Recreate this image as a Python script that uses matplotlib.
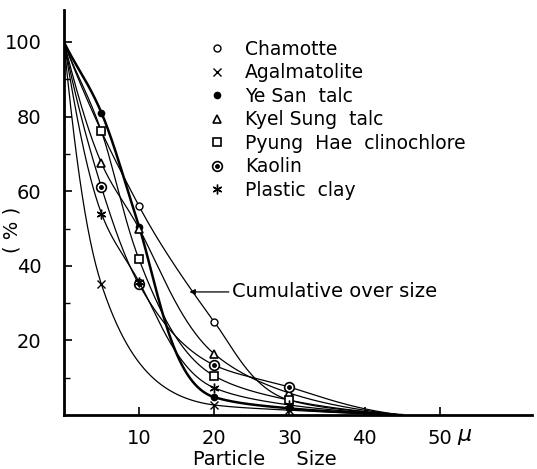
import numpy as np
import matplotlib
matplotlib.use('Agg')
import matplotlib.pyplot as plt
from matplotlib.lines import Line2D

# cumulative over size (%) at particle size (micron); every curve runs
# from 100 % at 0 down to 0 % at x_end
sizes = [5, 10, 20, 30]
chamotte = [76, 56, 25, 4]
agalmatolite = [35, None, 2.7, 1.3]
ye_san = [81, 50.5, 4.8, 1.8]
kyel_sung = [67.5, 50, 16.4, 5.9]
pyung_hae = [76, 41.7, 10.5, 4]
kaolin = [61, 35, 13.4, 7.5]
plastic_clay = [54, 35.7, 7.3, 2.7]
x_end = 45

names = ['Chamotte', 'Agalmatolite', 'Ye San  talc', 'Kyel Sung  talc',
         'Pyung  Hae  clinochlore', 'Kaolin', 'Plastic  clay']
series = [chamotte, agalmatolite, ye_san, kyel_sung, pyung_hae, kaolin, plastic_clay]
styles = [
    dict(marker='o', ms=5, mfc='white', mec='black', mew=1.0),
    dict(marker='x', ms=6, mec='black', mew=1.0),
    dict(marker='o', ms=4.5, mfc='black', mec='black'),
    dict(marker='^', ms=6, mfc='white', mec='black', mew=1.2),
    dict(marker='s', ms=5.5, mfc='white', mec='black', mew=1.2),
    dict(marker='o', ms=7, mfc='white', mec='black', mew=1.2),
    dict(marker=(6, 2, 0), ms=7, mec='black', mew=1.0),
]
widths = [0.9, 0.9, 1.8, 0.9, 0.9, 0.9, 0.9]


def pchip(x, y, xs):
    # monotone cubic Hermite (Fritsch-Carlson)
    x = np.asarray(x, float)
    y = np.asarray(y, float)
    h = np.diff(x)
    d = np.diff(y) / h
    m = np.zeros_like(y)
    m[0] = d[0]
    m[-1] = d[-1]
    for k in range(1, len(x) - 1):
        if d[k - 1] * d[k] <= 0:
            m[k] = 0
        else:
            w1 = 2 * h[k] + h[k - 1]
            w2 = h[k] + 2 * h[k - 1]
            m[k] = (w1 + w2) / (w1 / d[k - 1] + w2 / d[k])
    i = np.clip(np.searchsorted(x, xs) - 1, 0, len(x) - 2)
    t = (xs - x[i]) / h[i]
    h00 = 2 * t**3 - 3 * t**2 + 1
    h10 = t**3 - 2 * t**2 + t
    h01 = -2 * t**3 + 3 * t**2
    h11 = t**3 - t**2
    return h00 * y[i] + h10 * h[i] * m[i] + h01 * y[i + 1] + h11 * h[i] * m[i + 1]


def curve(vals, xs, c=3.0):
    # smooth in log(y + c) so the decay bends like a drawn curve
    px = [0] + [s for s, v in zip(sizes, vals) if v is not None] + [x_end]
    py = [100] + [v for v in vals if v is not None] + [0]
    return np.exp(pchip(px, np.log(np.array(py) + c), xs)) - c


plt.rcParams['font.family'] = ['DejaVu Sans']
fig = plt.figure(figsize=(5.37, 4.69), dpi=100)
ax = fig.add_axes([0.119, 0.115, 0.872, 0.864])

xs = np.linspace(0, x_end, 500)
handles = []
for vals, name, st, lw in zip(series, names, styles, widths):
    ax.plot(xs, curve(vals, xs), color='black', lw=lw)
    px = [s for s, v in zip(sizes, vals) if v is not None]
    py = [v for v in vals if v is not None]
    ax.plot(px, py, ls='none', color='black', **st)
    h = Line2D([], [], ls='none', color='black', **st)
    if name == 'Kaolin':
        ax.plot(px, py, ls='none', marker='o', ms=2.5, color='black')
        h = (h, Line2D([], [], ls='none', marker='o', ms=2.5, color='black'))
    handles.append(h)

ax.legend(handles, names, loc='upper left', bbox_to_anchor=(0.29, 0.945),
          frameon=False, fontsize=13.5, handlelength=1.0, handletextpad=1.0,
          labelspacing=0.24, borderaxespad=0)

ax.annotate('Cumulative over size', xy=(16.7, 33), xytext=(22.3, 33),
            fontsize=14, va='center',
            arrowprops=dict(arrowstyle='-|>', color='black', lw=0.9,
                            mutation_scale=8, shrinkA=0, shrinkB=0))

ax.set_xlim(0, 62.3)
ax.set_ylim(0, 108.6)
ax.set_xticks([10, 20, 30, 40, 50])
ax.set_xticklabels(['10', '20', '30', '40', '50'])
ax.set_yticks([20, 40, 60, 80, 100])
ax.set_yticks([10, 30, 50, 70, 90], minor=True)
ax.tick_params(direction='in', length=6, width=1.2, labelsize=14)
ax.tick_params(axis='x', pad=10)
ax.tick_params(axis='y', pad=16)
ax.tick_params(which='minor', direction='in', length=4, width=1.0)
ax.text(52.3, -6.0, r'$\mu$', fontsize=16, va='center', ha='left')

for side in ['top', 'right']:
    ax.spines[side].set_visible(False)
for side in ['left', 'bottom']:
    ax.spines[side].set_linewidth(2.0)

ax.set_xlabel('Particle     Size', fontsize=14)
ax.xaxis.set_label_coords(0.43, -0.085)
ax.set_ylabel('( % )', fontsize=14)
ax.yaxis.set_label_coords(-0.09, 0.457)

fig.savefig('out.png', dpi=100)
